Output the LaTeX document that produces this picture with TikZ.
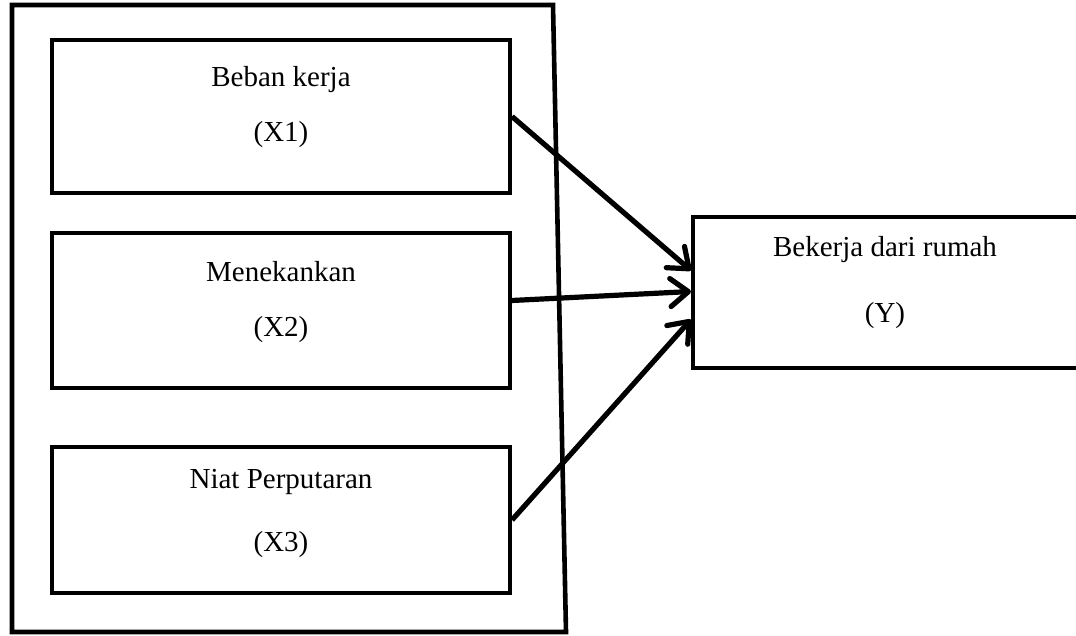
\documentclass[tikz,border=0pt]{standalone}
\usepackage{fontspec}
\setmainfont{Liberation Serif}
\usetikzlibrary{arrows.meta}

\begin{document}
\begin{tikzpicture}[x=0.5pt, y=-0.5pt,
    varbox/.style={draw, line width=2pt, minimum width=229pt, inner sep=0pt},
    lbl/.style={font=\fontsize{14.5}{17}\selectfont, inner sep=0pt},
    link/.style={line width=2.6pt, -{Straight Barb[length=9pt, width=14pt, line width=2.6pt, round]}}]
    \useasboundingbox (0,0) rectangle (1076,636);

    % outer frame
    \draw[line width=2.3pt, line join=miter] (12,5) -- (553,5) -- (566,632) -- (12,632) -- cycle;

    % independent variables
    \node[varbox, minimum height=76.5pt] (x1) at (281,116.5) {};
    \node[lbl] (x1name) at (281,80) {Beban kerja};
    \node[lbl] (x1code) at (281,135) {(X1)};

    \node[varbox, minimum height=77.5pt] (x2) at (281,310.5) {};
    \node[lbl] (x2name) at (281,272) {Menekankan};
    \node[lbl] (x2code) at (281,330) {(X2)};

    \node[varbox, minimum height=73pt] (x3) at (281,520) {};
    \node[lbl] (x3name) at (281,482) {Niat Perputaran};
    \node[lbl] (x3code) at (281,545) {(X3)};

    % dependent variable
    \node[varbox, minimum width=210pt, minimum height=75.5pt] (y) at (903,292.5) {};
    \node[lbl] (yname) at (885,250) {Bekerja dari rumah};
    \node[lbl] (ycode) at (885,316) {(Y)};

    % arrows
    \draw[link] (x1.east) -- ([yshift=11pt]y.west);
    \draw[link] ([yshift=5pt]x2.east) -- ([yshift=0.5pt]y.west);
    \draw[link] (x3.east) -- ([yshift=-13.5pt]y.west);
\end{tikzpicture}
\end{document}
